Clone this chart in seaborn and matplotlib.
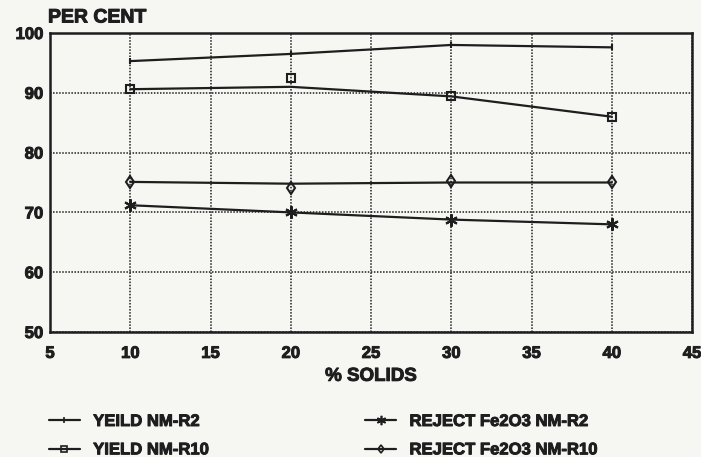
import matplotlib
matplotlib.use("Agg")
import matplotlib.pyplot as plt
from matplotlib.lines import Line2D
import matplotlib.patheffects as pe
import seaborn as sns
import pandas as pd

# % solids tested
solids = [10, 20, 30, 40]

# measured points
yield_r2 = [95.3, 96.5, 98.0, 97.6]
yield_r10 = [90.6, 92.4, 89.4, 86.0]
reject_r2 = [71.2, 70.0, 68.8, 68.0]
reject_r10 = [75.1, 74.1, 75.2, 75.1]

# smoothed curves drawn through the points
yield_r2_fit = [95.3, 96.5, 98.0, 97.6]
yield_r10_fit = [90.6, 91.0, 89.4, 86.0]
reject_r2_fit = [71.2, 70.0, 68.8, 68.0]
reject_r10_fit = [75.1, 74.8, 75.0, 75.0]

labels = ["YEILD NM-R2", "YIELD NM-R10", "REJECT Fe2O3 NM-R2", "REJECT Fe2O3 NM-R10"]
x_ticks = [5, 10, 15, 20, 25, 30, 35, 40, 45]
y_ticks = [50, 60, 70, 80, 90, 100]

sns.set_theme(style="white")
plt.rcParams["font.family"] = ["Liberation Sans", "DejaVu Sans"]
plt.rcParams["font.weight"] = "bold"

ink = "#1e1e1e"
paper = "#f6f6f3"
heavy = [pe.withStroke(linewidth=0.7, foreground=ink)]

fig = plt.figure(figsize=(7.01, 4.57), dpi=100, facecolor=paper)
W, H = 701, 457
ax = fig.add_axes([50 / W, 1 - 332 / H, (692 - 50) / W, (332 - 33) / H])
ax.set_facecolor(paper)

points = [yield_r2, yield_r10, reject_r2, reject_r10]
fits = [yield_r2_fit, yield_r10_fit, reject_r2_fit, reject_r10_fit]
markers = ["|", "s", (6, 2, 0), "d"]
msizes = [5, 6, 9, 6]

frames = []
for lab, pts, fit in zip(labels, points, fits):
    frames.append(pd.DataFrame({"solids": solids, "value": pts, "fit": fit, "series": lab}))
df = pd.concat(frames, ignore_index=True)

for lab, mk, ms in zip(labels, markers, msizes):
    sub = df[df["series"] == lab]
    sns.lineplot(data=sub, x="solids", y="fit", ax=ax, color=ink, lw=1.6, legend=False)
    ax.plot(sub["solids"], sub["value"], linestyle="none", marker=mk, markersize=ms,
            markerfacecolor="none" if mk in ("s", "d") else ink,
            markeredgecolor=ink, markeredgewidth=1.5)

ax.set_xlim(5, 45)
ax.set_ylim(50, 100)
ax.set_xticks(x_ticks)
ax.set_yticks(y_ticks)
ax.grid(True, color=ink, linestyle=(0, (1, 1)), linewidth=1.1)
for s in ax.spines.values():
    s.set_color(ink)
    s.set_linewidth(1.8)
ax.tick_params(axis="x", length=0, labelsize=12, colors=ink, pad=10)
ax.tick_params(axis="y", length=0, labelsize=12, colors=ink, pad=5)
for t in ax.get_xticklabels() + ax.get_yticklabels():
    t.set_fontweight("bold")
    t.set_path_effects(heavy)
ax.set_xlabel("% SOLIDS", fontsize=13.5, fontweight="bold", color=ink, labelpad=5,
              path_effects=heavy)
ax.set_ylabel("")

fig.text(48 / W, 1 - 18 / H, "PER CENT", fontsize=14, fontweight="bold", color=ink,
         va="center", ha="left", path_effects=heavy)

handles = [Line2D([0], [0], color=ink, lw=1.6, marker=mk, markersize=ms * 0.75,
                  markerfacecolor="none" if mk in ("s", "d") else ink,
                  markeredgecolor=ink, markeredgewidth=1.2)
           for mk, ms in zip(markers, msizes)]
leg = fig.legend(handles, labels, loc="upper left", bbox_to_anchor=(49 / W, 1 - 414 / H),
                 ncol=2, frameon=False, fontsize=12, handlelength=1.85, columnspacing=9.4,
                 labelspacing=0.8, handletextpad=0.8, borderpad=0, borderaxespad=0)
for t in leg.get_texts():
    t.set_fontweight("bold")
    t.set_color(ink)
    t.set_path_effects(heavy)

fig.savefig("out.png", dpi=100, facecolor=paper)
